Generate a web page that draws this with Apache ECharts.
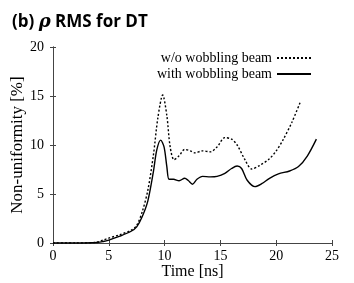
<!DOCTYPE html>
<html><head><meta charset="utf-8">
<script src="https://cdn.jsdelivr.net/npm/echarts@6/dist/echarts.min.js"></script>
<style>html,body{margin:0;padding:0;background:#fff}#c{width:354px;height:283px}</style>
</head><body><div id="c"></div>
<script>
var xTicks = [0, 5, 10, 15, 20, 25];
var yTicks = [0, 5, 10, 15, 20];
var seriesNames = ['w/o wobbling beam', 'with wobbling beam'];
var timeWo = [0, 2, 3.8, 4.5, 5, 6, 7, 7.5, 8, 8.5, 9, 9.4, 9.83, 10.2, 10.5, 10.85, 11.3, 11.8, 12.3, 12.7, 13.4, 14.1, 14.7, 15.4, 16, 16.5, 17.2, 17.8, 18.5, 19.4, 20, 20.6, 21.4, 22.2];
var valWo = [0, 0, 0.05, 0.3, 0.5, 0.85, 1.3, 1.8, 3.2, 5.4, 9.0, 12.8, 15.1, 13.0, 9.8, 8.5, 8.9, 9.55, 9.4, 9.2, 9.4, 9.3, 9.8, 10.75, 10.6, 10.0, 8.5, 7.55, 7.9, 8.6, 9.4, 10.5, 12.3, 14.5];
var timeWith = [0, 2, 4, 4.5, 5, 6, 7, 7.5, 8, 8.5, 9, 9.3, 9.65, 9.95, 10.2, 10.4, 10.8, 11.3, 11.8, 12.1, 12.5, 12.9, 13.4, 14.1, 14.7, 15.4, 16, 16.5, 16.9, 17.4, 18.1, 18.7, 19.4, 20.2, 21.2, 22, 22.8, 23.6];
var valWith = [0, 0, 0.05, 0.15, 0.3, 0.7, 1.2, 1.65, 2.7, 4.3, 7.3, 9.5, 10.5, 9.8, 7.8, 6.5, 6.5, 6.35, 6.6, 6.4, 6.0, 6.5, 6.8, 6.75, 6.8, 7.1, 7.6, 7.85, 7.6, 6.4, 5.75, 6.05, 6.6, 7.05, 7.35, 7.8, 8.9, 10.6];

function pairs(t, v) { return t.map(function (x, i) { return [x, v[i]]; }); }
var serif = 'Liberation Serif';
var chart = echarts.init(document.getElementById('c'), null, {renderer: 'canvas'});
var axisLine = {show: true, lineStyle: {color: '#444', width: 1}};
var tick = {show: true, inside: true, length: 3, lineStyle: {color: '#444'}};
chart.setOption({
  animation: false,
  title: {
    text: '{b|(b) }{r|ρ}{b| RMS for DT}',
    left: 7, top: 8,
    textStyle: {rich: {
      b: {fontFamily: 'Open Sans', fontWeight: 'bold', fontSize: 17, color: '#000'},
      r: {fontFamily: 'DejaVu Serif', fontStyle: 'italic', fontSize: 18, color: '#000'}
    }}
  },
  legend: {
    right: 37, top: 46, orient: 'vertical', align: 'right', itemGap: 2,
    itemWidth: 34, itemHeight: 11,
    itemStyle: {opacity: 0},
    textStyle: {fontFamily: serif, fontSize: 14, color: '#000'},
    data: seriesNames
  },
  grid: {left: 53, right: 22, top: 47, bottom: 40, outerBoundsMode: 'none', containLabel: false},
  xAxis: [{
    type: 'value', min: 0, max: 25, interval: 5,
    name: 'Time [ns]', nameLocation: 'middle', nameGap: 21, nameMoveOverlap: false,
    nameTextStyle: {fontFamily: serif, fontSize: 16, color: '#000'},
    axisLine: axisLine, axisTick: tick, splitLine: {show: false},
    axisLabel: {fontFamily: serif, fontSize: 14, color: '#000', margin: 6}
  }, {
    type: 'value', min: 0, max: 25, interval: 5, position: 'top',
    axisLine: axisLine, axisTick: tick, splitLine: {show: false}, axisLabel: {show: false}
  }],
  yAxis: [{
    type: 'value', min: 0, max: 20, interval: 5,
    name: 'Non-uniformity [%]', nameLocation: 'middle', nameGap: 27, nameMoveOverlap: false,
    nameTextStyle: {fontFamily: serif, fontSize: 17, color: '#000'},
    axisLine: axisLine, axisTick: tick, splitLine: {show: false},
    axisLabel: {fontFamily: serif, fontSize: 14, color: '#000', margin: 9}
  }, {
    type: 'value', min: 0, max: 20, interval: 5, position: 'right',
    axisLine: axisLine, axisTick: tick, splitLine: {show: false}, axisLabel: {show: false}
  }],
  series: [{
    name: seriesNames[0], type: 'line', smooth: 0.3, symbol: 'none',
    data: pairs(timeWo, valWo),
    lineStyle: {color: '#000', width: 1.4, type: [2, 2]}, itemStyle: {color: '#000'}
  }, {
    name: seriesNames[1], type: 'line', smooth: 0.3, symbol: 'none',
    data: pairs(timeWith, valWith),
    lineStyle: {color: '#000', width: 1.4}, itemStyle: {color: '#000'}
  }]
});
</script></body></html>
